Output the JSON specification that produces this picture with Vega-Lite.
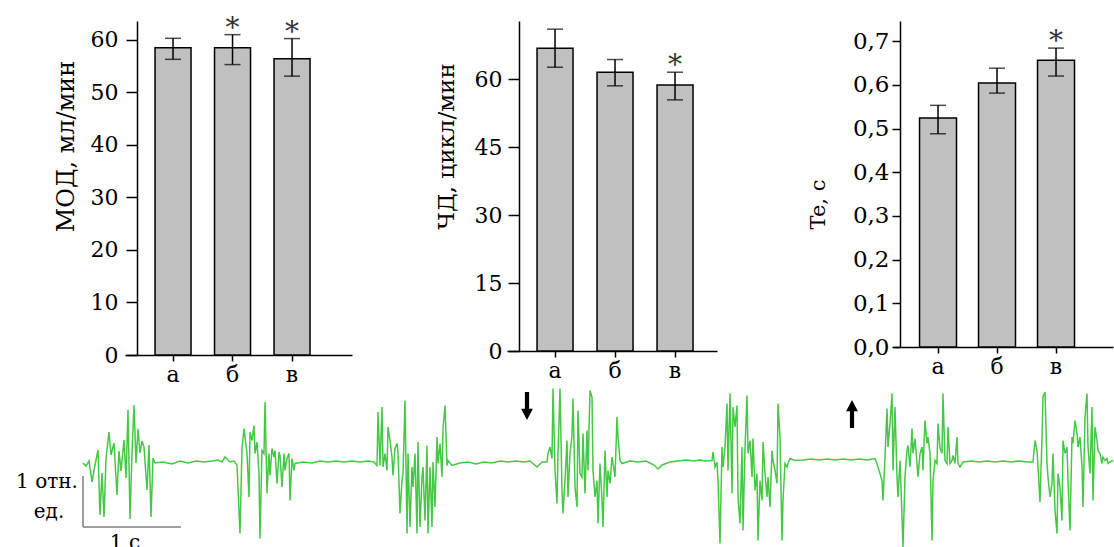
{
  "$schema": "https://vega.github.io/schema/vega-lite/v6.json",
  "background": "white",
  "padding": {"left": 0, "top": 14, "right": 0, "bottom": 0},
  "config": {
    "view": {"stroke": null},
    "font": "DejaVu Serif",
    "axis": {"domainColor": "#000", "tickColor": "#000", "labelColor": "#000", "titleColor": "#000", "domainWidth": 1.5, "tickWidth": 1.5, "grid": false, "labelFont": "DejaVu Serif", "titleFont": "DejaVu Serif", "titleFontWeight": "normal", "labelOverlap": false, "labelFlush": false}
  },
  "datasets": {
    "mod": [{"g": "а", "m": 58.5, "lo": 56.3, "hi": 60.3, "star": false}, {"g": "б", "m": 58.5, "lo": 55.3, "hi": 61.0, "star": true}, {"g": "в", "m": 56.4, "lo": 53.1, "hi": 60.25, "star": true}],
    "chd": [{"g": "а", "m": 66.8, "lo": 62.6, "hi": 71.0, "star": false}, {"g": "б", "m": 61.5, "lo": 58.5, "hi": 64.3, "star": false}, {"g": "в", "m": 58.7, "lo": 55.4, "hi": 61.5, "star": true}],
    "te": [{"g": "а", "m": 0.524, "lo": 0.488, "hi": 0.553, "star": false}, {"g": "б", "m": 0.604, "lo": 0.581, "hi": 0.638, "star": false}, {"g": "в", "m": 0.656, "lo": 0.62, "hi": 0.684, "star": true}],
    "bar": [{"x1": 0.83, "x2": 0.83, "y1": -0.26, "y2": -1.28}, {"x1": 0.83, "x2": 1.81, "y1": -1.28, "y2": -1.28}],
    "notes": [{"x": 0.47, "y": -0.38, "label": "1 отн."}, {"x": 0.49, "y": -0.98, "label": "ед."}, {"x": 1.25, "y": -1.6, "label": "1 с"}],
    "arrows": [{"x": 5.27, "y": 1.14, "dir": "down"}, {"x": 8.52, "y": 0.98, "dir": "up"}],
    "trace": [
      {"t":0.83,"v":0},{"t":0.86,"v":-0.06},{"t":0.89,"v":0.04},{"t":0.92,"v":-0.38},{"t":0.95,"v":-0.04},{"t":0.98,"v":0.26},{"t":1.00,"v":-1.04},{"t":1.02,"v":-0.2},{"t":1.04,"v":-1.08},{"t":1.06,"v":0.08},{"t":1.09,"v":0.62},{"t":1.11,"v":0.16},{"t":1.14,"v":0.4},{"t":1.17,"v":-0.64},{"t":1.19,"v":0.24},{"t":1.21,"v":-0.16},{"t":1.24,"v":0.46},{"t":1.26,"v":-0.3},{"t":1.28,"v":1.06},{"t":1.30,"v":-1.12},{"t":1.32,"v":0.2},{"t":1.34,"v":1.16},{"t":1.36,"v":0},{"t":1.38,"v":0.68},{"t":1.40,"v":0.2},{"t":1.42,"v":0.44},{"t":1.44,"v":0.32},{"t":1.47,"v":-0.54},{"t":1.49,"v":0.36},{"t":1.51,"v":-1.08},{"t":1.53,"v":0.1},{"t":1.55,"v":0},
      {"t":1.63,"v":0.02},{"t":1.72,"v":-0.02},{"t":1.80,"v":0.04},{"t":1.88,"v":0},{"t":1.96,"v":0.04},{"t":2.04,"v":0.02},{"t":2.12,"v":0.04},{"t":2.18,"v":0.06},{"t":2.22,"v":0.02},
      {"t":2.25,"v":0.12},{"t":2.30,"v":0.02},{"t":2.34,"v":0.04},{"t":2.37,"v":-0.04},{"t":2.40,"v":-1.41},{"t":2.42,"v":0.29},{"t":2.44,"v":0.69},{"t":2.47,"v":0.19},{"t":2.49,"v":-0.68},{"t":2.50,"v":0.62},{"t":2.52,"v":0.45},{"t":2.54,"v":0.75},{"t":2.55,"v":0.19},{"t":2.57,"v":0.42},{"t":2.59,"v":-0.21},{"t":2.60,"v":-1.51},{"t":2.62,"v":0.25},{"t":2.64,"v":0.19},{"t":2.65,"v":1.22},{"t":2.67,"v":-0.61},{"t":2.69,"v":0.19},{"t":2.70,"v":-0.25},{"t":2.72,"v":0.29},{"t":2.74,"v":0.12},{"t":2.75,"v":0.25},{"t":2.77,"v":-0.41},{"t":2.79,"v":0.22},{"t":2.80,"v":0.15},{"t":2.82,"v":-0.48},{"t":2.84,"v":0.19},{"t":2.85,"v":-0.15},{"t":2.87,"v":0.09},{"t":2.89,"v":0.19},{"t":2.90,"v":-0.75},{"t":2.92,"v":0.09},{"t":2.94,"v":-0.15},{"t":2.95,"v":-0.01},
      {"t":3.03,"v":0.02},{"t":3.12,"v":0},{"t":3.20,"v":0.04},{"t":3.28,"v":0.02},{"t":3.36,"v":0.04},{"t":3.44,"v":0.02},{"t":3.52,"v":0.04},{"t":3.60,"v":0.02},{"t":3.68,"v":0.04},{"t":3.74,"v":0.02},
      {"t":3.77,"v":-0.05},{"t":3.78,"v":1.02},{"t":3.80,"v":-0.05},{"t":3.82,"v":1.12},{"t":3.83,"v":-0.08},{"t":3.85,"v":0.19},{"t":3.87,"v":-0.15},{"t":3.88,"v":0.72},{"t":3.90,"v":0.45},{"t":3.92,"v":0.12},{"t":3.93,"v":-0.25},{"t":3.95,"v":0.29},{"t":3.97,"v":0.39},{"t":3.98,"v":0.22},{"t":4.00,"v":-1.01},{"t":4.02,"v":-0.35},{"t":4.03,"v":-0.21},{"t":4.05,"v":1.25},{"t":4.07,"v":-1.41},{"t":4.08,"v":0.19},{"t":4.10,"v":-1.28},{"t":4.12,"v":-0.08},{"t":4.13,"v":-0.48},{"t":4.15,"v":0.19},{"t":4.17,"v":-1.41},{"t":4.18,"v":0.42},{"t":4.20,"v":-1.28},{"t":4.22,"v":-0.28},{"t":4.23,"v":-0.08},{"t":4.25,"v":-1.15},{"t":4.27,"v":0.35},{"t":4.28,"v":-1.41},{"t":4.30,"v":-0.08},{"t":4.32,"v":-1.28},{"t":4.33,"v":0.02},{"t":4.35,"v":-0.88},{"t":4.37,"v":0.52},{"t":4.38,"v":-0.01},{"t":4.40,"v":0.39},{"t":4.42,"v":-0.28},{"t":4.43,"v":0.69},{"t":4.45,"v":1.15},{"t":4.47,"v":-0.05},{"t":4.48,"v":0.05},{"t":4.52,"v":-0.05},
      {"t":4.60,"v":0},{"t":4.68,"v":0.02},{"t":4.76,"v":-0.02},{"t":4.84,"v":0.02},{"t":4.92,"v":0},{"t":5.00,"v":0.04},{"t":5.08,"v":0.02},{"t":5.16,"v":0.04},{"t":5.24,"v":0.02},{"t":5.30,"v":0.04},{"t":5.37,"v":-0.08},{"t":5.42,"v":0.02},{"t":5.47,"v":0.02},
      {"t":5.48,"v":0.19},{"t":5.50,"v":0.32},{"t":5.52,"v":0.09},{"t":5.53,"v":1.49},{"t":5.55,"v":-0.15},{"t":5.57,"v":-0.81},{"t":5.58,"v":0.19},{"t":5.60,"v":1.49},{"t":5.62,"v":-0.55},{"t":5.63,"v":-1.01},{"t":5.65,"v":-0.35},{"t":5.67,"v":0.45},{"t":5.68,"v":-0.68},{"t":5.70,"v":0.19},{"t":5.72,"v":0.55},{"t":5.73,"v":1.29},{"t":5.75,"v":-0.48},{"t":5.77,"v":-0.88},{"t":5.78,"v":1.05},{"t":5.80,"v":-0.21},{"t":5.82,"v":-0.28},{"t":5.83,"v":0.59},{"t":5.85,"v":-0.61},{"t":5.87,"v":0.65},{"t":5.88,"v":-0.15},{"t":5.90,"v":1.45},{"t":5.92,"v":1.32},{"t":5.93,"v":-0.15},{"t":5.95,"v":-0.68},{"t":5.97,"v":-0.35},{"t":5.98,"v":-1.21},{"t":6.00,"v":-0.01},{"t":6.02,"v":-0.75},{"t":6.03,"v":-1.28},{"t":6.05,"v":0.25},{"t":6.07,"v":-0.68},{"t":6.08,"v":-0.15},{"t":6.10,"v":-0.41},{"t":6.12,"v":0.12},{"t":6.13,"v":-0.01},{"t":6.15,"v":-0.28},{"t":6.17,"v":0.92},{"t":6.18,"v":0.52},{"t":6.20,"v":0.05},{"t":6.22,"v":-0.01},
      {"t":6.30,"v":0.04},{"t":6.38,"v":0.02},{"t":6.46,"v":0.04},{"t":6.54,"v":-0.04},{"t":6.58,"v":-0.12},{"t":6.62,"v":-0.04},{"t":6.70,"v":0.02},{"t":6.78,"v":0.04},{"t":6.86,"v":0.06},{"t":6.94,"v":0.04},{"t":7.00,"v":0.06},{"t":7.05,"v":0.04},{"t":7.12,"v":0.05},
      {"t":7.13,"v":0.22},{"t":7.15,"v":-0.08},{"t":7.17,"v":0.02},{"t":7.18,"v":-0.35},{"t":7.20,"v":-1.61},{"t":7.22,"v":0.32},{"t":7.23,"v":-0.08},{"t":7.25,"v":0.32},{"t":7.27,"v":1.19},{"t":7.28,"v":-0.15},{"t":7.30,"v":1.39},{"t":7.32,"v":-0.61},{"t":7.33,"v":1.12},{"t":7.35,"v":0.72},{"t":7.37,"v":1.15},{"t":7.38,"v":-0.68},{"t":7.40,"v":-1.21},{"t":7.42,"v":0.32},{"t":7.43,"v":-1.35},{"t":7.45,"v":0.29},{"t":7.47,"v":1.35},{"t":7.48,"v":0.19},{"t":7.50,"v":0.45},{"t":7.52,"v":-0.28},{"t":7.53,"v":0.49},{"t":7.55,"v":-0.55},{"t":7.57,"v":-0.21},{"t":7.58,"v":-1.55},{"t":7.60,"v":-0.35},{"t":7.62,"v":-0.75},{"t":7.63,"v":0.42},{"t":7.65,"v":-0.21},{"t":7.67,"v":-0.68},{"t":7.68,"v":-0.28},{"t":7.70,"v":-0.88},{"t":7.72,"v":0.25},{"t":7.73,"v":0.05},{"t":7.75,"v":-0.15},{"t":7.77,"v":-0.41},{"t":7.78,"v":1.19},{"t":7.80,"v":0.52},{"t":7.82,"v":-1.55},{"t":7.83,"v":-0.75},{"t":7.85,"v":-0.01},{"t":7.87,"v":-0.08},{"t":7.88,"v":-0.01},{"t":7.90,"v":0.09},{"t":7.95,"v":0.05},
      {"t":8.03,"v":0.06},{"t":8.11,"v":0.08},{"t":8.19,"v":0.06},{"t":8.27,"v":0.08},{"t":8.35,"v":0.06},{"t":8.43,"v":0.08},{"t":8.51,"v":0.06},{"t":8.59,"v":0.08},{"t":8.67,"v":0.06},{"t":8.75,"v":0.09},
      {"t":8.77,"v":-0.01},{"t":8.78,"v":-0.08},{"t":8.80,"v":-0.21},{"t":8.82,"v":-0.35},{"t":8.83,"v":-0.75},{"t":8.85,"v":0.12},{"t":8.87,"v":1.09},{"t":8.88,"v":0.32},{"t":8.90,"v":0.79},{"t":8.92,"v":1.39},{"t":8.93,"v":-0.15},{"t":8.95,"v":1.12},{"t":8.97,"v":-0.28},{"t":8.98,"v":-0.68},{"t":9.00,"v":0.05},{"t":9.02,"v":-1.08},{"t":9.03,"v":-1.68},{"t":9.05,"v":-0.28},{"t":9.07,"v":0.25},{"t":9.08,"v":0.35},{"t":9.10,"v":-0.08},{"t":9.12,"v":0.69},{"t":9.13,"v":0.19},{"t":9.15,"v":0.49},{"t":9.17,"v":-0.01},{"t":9.18,"v":-0.28},{"t":9.20,"v":0.19},{"t":9.22,"v":0.32},{"t":9.23,"v":-0.15},{"t":9.25,"v":0.85},{"t":9.27,"v":0.39},{"t":9.28,"v":0.52},{"t":9.30,"v":0.19},{"t":9.32,"v":-1.55},{"t":9.33,"v":-0.35},{"t":9.35,"v":0.05},{"t":9.37,"v":-0.01},{"t":9.38,"v":0.79},{"t":9.40,"v":0.3},{"t":9.42,"v":0.19},{"t":9.43,"v":1.39},{"t":9.45,"v":0.05},{"t":9.47,"v":-0.01},{"t":9.48,"v":0.72},{"t":9.50,"v":-0.01},{"t":9.52,"v":0.05},{"t":9.53,"v":0.15},{"t":9.55,"v":-0.01},{"t":9.57,"v":0.52},{"t":9.58,"v":-0.01},{"t":9.60,"v":-0.08},{"t":9.63,"v":0.02},
      {"t":9.71,"v":0.04},{"t":9.79,"v":0.02},{"t":9.87,"v":0.04},{"t":9.95,"v":0.02},{"t":10.03,"v":0.04},{"t":10.11,"v":0.02},{"t":10.19,"v":0.04},{"t":10.27,"v":0.02},{"t":10.33,"v":0.02},
      {"t":10.35,"v":0.45},{"t":10.37,"v":0.25},{"t":10.38,"v":-0.08},{"t":10.40,"v":-0.78},{"t":10.42,"v":0.49},{"t":10.43,"v":1.32},{"t":10.45,"v":1.42},{"t":10.47,"v":-0.01},{"t":10.48,"v":-0.28},{"t":10.50,"v":-0.68},{"t":10.52,"v":-0.41},{"t":10.53,"v":0.19},{"t":10.55,"v":-0.95},{"t":10.57,"v":-1.41},{"t":10.58,"v":-0.21},{"t":10.60,"v":-0.48},{"t":10.62,"v":-1.15},{"t":10.63,"v":0.45},{"t":10.65,"v":0.19},{"t":10.67,"v":0.32},{"t":10.68,"v":-0.35},{"t":10.70,"v":-1.35},{"t":10.72,"v":0.52},{"t":10.73,"v":0.39},{"t":10.75,"v":0.85},{"t":10.77,"v":0.59},{"t":10.78,"v":0.32},{"t":10.80,"v":0.52},{"t":10.82,"v":-0.08},{"t":10.83,"v":-0.88},{"t":10.85,"v":0.92},{"t":10.87,"v":1.39},{"t":10.88,"v":0.32},{"t":10.90,"v":-0.21},{"t":10.92,"v":1.12},{"t":10.93,"v":-0.75},{"t":10.95,"v":0.72},{"t":10.97,"v":0.45},{"t":10.98,"v":0.25},{"t":11.00,"v":0.19},{"t":11.02,"v":-0.01},{"t":11.03,"v":0.12},{"t":11.05,"v":0.05},{"t":11.07,"v":0.09},{"t":11.08,"v":-0.01},{"t":11.10,"v":0.02},{"t":11.13,"v":0.05}
    ]
  },
  "vconcat": [
    {
      "hconcat": [
        {"width": 125, "height": 334, "data": {"values": [{"a": 1}]}, "mark": {"type": "point", "opacity": 0}, "encoding": {}},
        {
          "hconcat": [
            {
              "width": 227, "height": 334,
              "data": {"name": "mod"},
              "encoding": {"x": {"field": "g", "type": "nominal", "sort": null, "scale": {"paddingInner": 0.395, "paddingOuter": 0.605, "align": 0.417}, "axis": {"title": null, "labelAngle": 0, "tickSize": 6, "labelPadding": 3, "labelFontSize": 22}}},
              "layer": [
                {"mark": {"type": "bar", "fill": "#c0c0c0", "stroke": "#000", "strokeWidth": 1.5}, "encoding": {"y": {"field": "m", "type": "quantitative", "title": "МОД, мл/мин", "scale": {"domain": [0, 63.6], "nice": false}, "axis": {"values": [0, 10, 20, 30, 40, 50, 60], "tickSize": 11, "offset": -12, "labelPadding": 8, "labelFontSize": 22, "titleFontSize": 24, "titleX": -59, "titleY": 125}}}},
                {"mark": {"type": "rule", "stroke": "#000", "strokeWidth": 1.5}, "encoding": {"y": {"field": "lo", "type": "quantitative", "title": "МОД, мл/мин"}, "y2": {"field": "hi"}}},
                {"mark": {"type": "tick", "color": "#000", "thickness": 1.5, "size": 16}, "encoding": {"y": {"field": "lo", "type": "quantitative", "title": "МОД, мл/мин"}}},
                {"mark": {"type": "tick", "color": "#000", "thickness": 1.5, "size": 16}, "encoding": {"y": {"field": "hi", "type": "quantitative", "title": "МОД, мл/мин"}}},
                {"transform": [{"filter": "datum.star"}], "mark": {"type": "text", "text": "*", "fontSize": 28, "baseline": "alphabetic", "dy": 2, "color": "#333", "font": "DejaVu Serif"}, "encoding": {"y": {"field": "hi", "type": "quantitative", "title": "МОД, мл/мин"}}}
              ]
            },
            {
              "hconcat": [
                {
                  "width": 210, "height": 330,
                  "data": {"name": "chd"},
                  "encoding": {"x": {"field": "g", "type": "nominal", "sort": null, "scale": {"paddingInner": 0.4, "paddingOuter": 0.45, "align": 0.556}, "axis": {"title": null, "labelAngle": 0, "tickSize": 6, "labelPadding": 3, "labelFontSize": 22}}},
                  "layer": [
                    {"mark": {"type": "bar", "fill": "#c0c0c0", "stroke": "#000", "strokeWidth": 1.5}, "encoding": {"y": {"field": "m", "type": "quantitative", "title": "ЧД, цикл/мин", "scale": {"domain": [0, 72.8], "nice": false}, "axis": {"values": [0, 15, 30, 45, 60], "tickSize": 11, "offset": -12, "labelPadding": 6, "labelFontSize": 22, "titleFontSize": 23, "titleX": -61, "titleY": 125}}}},
                    {"mark": {"type": "rule", "stroke": "#000", "strokeWidth": 1.5}, "encoding": {"y": {"field": "lo", "type": "quantitative", "title": "ЧД, цикл/мин"}, "y2": {"field": "hi"}}},
                    {"mark": {"type": "tick", "color": "#000", "thickness": 1.5, "size": 16}, "encoding": {"y": {"field": "lo", "type": "quantitative", "title": "ЧД, цикл/мин"}}},
                    {"mark": {"type": "tick", "color": "#000", "thickness": 1.5, "size": 16}, "encoding": {"y": {"field": "hi", "type": "quantitative", "title": "ЧД, цикл/мин"}}},
                    {"transform": [{"filter": "datum.star"}], "mark": {"type": "text", "text": "*", "fontSize": 28, "baseline": "alphabetic", "dy": 2, "color": "#333", "font": "DejaVu Serif"}, "encoding": {"y": {"field": "hi", "type": "quantitative", "title": "ЧД, цикл/мин"}}}
                  ]
                },
                {
                  "width": 220, "height": 326,
                  "data": {"name": "te"},
                  "encoding": {"x": {"field": "g", "type": "nominal", "sort": null, "scale": {"paddingInner": 0.373, "paddingOuter": 0.551, "align": 0.408}, "axis": {"title": null, "labelAngle": 0, "tickSize": 6, "labelPadding": 3, "labelFontSize": 22}}},
                  "layer": [
                    {"mark": {"type": "bar", "fill": "#c0c0c0", "stroke": "#000", "strokeWidth": 1.5}, "encoding": {"y": {"field": "m", "type": "quantitative", "title": "Te, c", "scale": {"domain": [0, 0.746], "nice": false}, "axis": {"values": [0, 0.1, 0.2, 0.3, 0.4, 0.5, 0.6, 0.7], "labelExpr": "replace(format(datum.value, '.1f'), '.', ',')", "tickSize": 8, "offset": -7, "labelPadding": 3, "labelFontSize": 23, "titleFontSize": 21, "titleX": -72, "titleY": 183}}}},
                    {"mark": {"type": "rule", "stroke": "#000", "strokeWidth": 1.5}, "encoding": {"y": {"field": "lo", "type": "quantitative", "title": "Te, c"}, "y2": {"field": "hi"}}},
                    {"mark": {"type": "tick", "color": "#000", "thickness": 1.5, "size": 16}, "encoding": {"y": {"field": "lo", "type": "quantitative", "title": "Te, c"}}},
                    {"mark": {"type": "tick", "color": "#000", "thickness": 1.5, "size": 16}, "encoding": {"y": {"field": "hi", "type": "quantitative", "title": "Te, c"}}},
                    {"transform": [{"filter": "datum.star"}], "mark": {"type": "text", "text": "*", "fontSize": 28, "baseline": "alphabetic", "dy": 2, "color": "#333", "font": "DejaVu Serif"}, "encoding": {"y": {"field": "hi", "type": "quantitative", "title": "Te, c"}}}
                  ]
                }
              ],
              "spacing": 176, "bounds": "flush",
              "resolve": {"scale": {"x": "independent", "y": "independent"}}
            }
          ],
          "spacing": 155, "bounds": "flush",
          "resolve": {"scale": {"x": "independent", "y": "independent"}}
        }
      ],
      "spacing": 0, "bounds": "flush"
    },
    {
      "width": 1114, "height": 167,
      "layer": [
        {"data": {"name": "trace"}, "mark": {"type": "line", "stroke": "#45c845", "strokeWidth": 1.5}, "encoding": {"x": {"field": "t", "type": "quantitative", "scale": {"domain": [0, 11.14], "nice": false, "zero": false}, "axis": null}, "y": {"field": "v", "type": "quantitative", "scale": {"domain": [-1.8, 1.54], "nice": false, "zero": false}, "axis": null}}},
        {"data": {"name": "bar"}, "mark": {"type": "rule", "stroke": "#808080", "strokeWidth": 1.5}, "encoding": {"x": {"field": "x1", "type": "quantitative", "axis": null}, "x2": {"field": "x2"}, "y": {"field": "y1", "type": "quantitative", "axis": null}, "y2": {"field": "y2"}}},
        {"data": {"name": "notes"}, "mark": {"type": "text", "font": "DejaVu Serif", "fontSize": 20, "color": "#000", "baseline": "middle"}, "encoding": {"x": {"field": "x", "type": "quantitative", "axis": null}, "y": {"field": "y", "type": "quantitative", "axis": null}, "text": {"field": "label"}}},
        {"data": {"name": "arrows"}, "transform": [{"filter": "datum.dir == 'down'"}], "mark": {"type": "point", "shape": "M-0.15,-1L0.15,-1L0.15,0.2L0.42,0.2L0,1L-0.42,0.2L-0.15,0.2Z", "size": 784, "filled": true, "color": "#000", "opacity": 1}, "encoding": {"x": {"field": "x", "type": "quantitative", "axis": null}, "y": {"field": "y", "type": "quantitative", "axis": null}}},
        {"data": {"name": "arrows"}, "transform": [{"filter": "datum.dir == 'up'"}], "mark": {"type": "point", "shape": "M-0.15,1L0.15,1L0.15,-0.2L0.42,-0.2L0,-1L-0.42,-0.2L-0.15,-0.2Z", "size": 784, "filled": true, "color": "#000", "opacity": 1}, "encoding": {"x": {"field": "x", "type": "quantitative", "axis": null}, "y": {"field": "y", "type": "quantitative", "axis": null}}}
      ]
    }
  ],
  "spacing": 0,
  "bounds": "full"
}
